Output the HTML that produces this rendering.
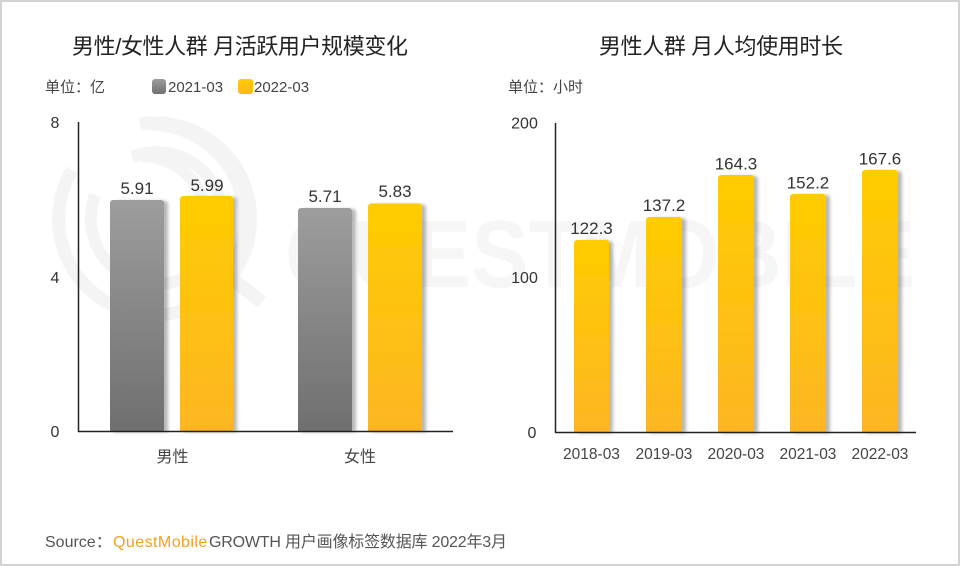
<!DOCTYPE html>
<html><head><meta charset="utf-8"><style>
html,body{margin:0;padding:0;background:#fff;}
svg{display:block;}
text{font-family:"Liberation Sans","Noto Sans CJK SC",sans-serif;}
</style></head><body>
<svg width="960" height="566" viewBox="0 0 960 566" xmlns="http://www.w3.org/2000/svg">
<defs>
<linearGradient id="gy" x1="0" y1="0" x2="0" y2="1"><stop offset="0" stop-color="#9d9d9d"/><stop offset="1" stop-color="#6f6f6f"/></linearGradient>
<linearGradient id="yl" x1="0" y1="0" x2="0" y2="1"><stop offset="0" stop-color="#ffcc00"/><stop offset="1" stop-color="#fdb623"/></linearGradient>
<filter id="sh" x="-20%" y="-5%" width="150%" height="110%"><feDropShadow dx="4" dy="1" stdDeviation="1.6" flood-color="#000" flood-opacity="0.28"/></filter>
</defs>
<rect x="1" y="1" width="958" height="564" fill="#fff" stroke="#d2d2d2" stroke-width="2"/>

<!-- watermark -->
<g fill="none" stroke="#f4f4f4">
<path d="M 72 170 A 96 96 0 1 0 140 124" stroke-width="13"/>
<path d="M 152 124 A 96 96 0 0 1 232 268" stroke-width="13"/>
<path d="M 95 195 A 66 66 0 1 0 132 157" stroke-width="12"/>
<path d="M 142 156 A 66 66 0 0 1 205 238" stroke-width="12"/>
<path d="M 205 258 L 262 302" stroke-width="14"/>
</g>
<text x="285" y="287" font-size="96" font-weight="bold" fill="#f6f6f6" textLength="630" lengthAdjust="spacingAndGlyphs">QUESTMOBILE</text>

<!-- titles -->
<text x="72" y="54" font-size="22" fill="#222" letter-spacing="1" textLength="337">男性/女性人群 月活跃用户规模变化</text>
<text x="599" y="54" font-size="22" fill="#222" textLength="244">男性人群 月人均使用时长</text>

<!-- left header -->
<text x="45" y="92" font-size="15" fill="#444">单位：亿</text>
<rect x="152" y="79" width="14" height="15" rx="3" fill="url(#gy)"/>
<text x="168" y="92" font-size="15" fill="#444">2021-03</text>
<rect x="238" y="79" width="15" height="15" rx="3" fill="url(#yl)"/>
<text x="254" y="92" font-size="15" fill="#444">2022-03</text>

<!-- right header -->
<text x="508" y="92" font-size="15" fill="#444">单位：小时</text>

<!-- left chart -->
<g filter="url(#sh)">
<path d="M110 431 V203 a3 3 0 0 1 3 -3 H161 a3 3 0 0 1 3 3 V431 Z" fill="url(#gy)"/>
<path d="M180 431 V199 a3 3 0 0 1 3 -3 H230 a3 3 0 0 1 3 3 V431 Z" fill="url(#yl)"/>
<path d="M298 431 V211 a3 3 0 0 1 3 -3 H349 a3 3 0 0 1 3 3 V431 Z" fill="url(#gy)"/>
<path d="M368 431 V206.5 a3 3 0 0 1 3 -3 H419 a3 3 0 0 1 3 3 V431 Z" fill="url(#yl)"/>
</g>
<line x1="78.5" y1="122" x2="78.5" y2="432" stroke="#222" stroke-width="1.5"/>
<line x1="78" y1="431.5" x2="453" y2="431.5" stroke="#222" stroke-width="1.5"/>
<g font-size="16" fill="#333" text-anchor="middle">
<text x="55" y="128">8</text>
<text x="55" y="283">4</text>
<text x="55" y="437">0</text>
</g>
<g font-size="17" fill="#333" text-anchor="middle">
<text x="137" y="194">5.91</text>
<text x="207" y="191">5.99</text>
<text x="325" y="202">5.71</text>
<text x="395" y="197">5.83</text>
</g>
<g font-size="16" fill="#444" text-anchor="middle">
<text x="172.5" y="462">男性</text>
<text x="360" y="462">女性</text>
</g>

<!-- right chart -->
<g filter="url(#sh)">
<path d="M574 432 V243 a3 3 0 0 1 3 -3 H606 a3 3 0 0 1 3 3 V432 Z" fill="url(#yl)"/>
<path d="M646 432 V220 a3 3 0 0 1 3 -3 H679 a3 3 0 0 1 3 3 V432 Z" fill="url(#yl)"/>
<path d="M718 432 V178 a3 3 0 0 1 3 -3 H751 a3 3 0 0 1 3 3 V432 Z" fill="url(#yl)"/>
<path d="M790 432 V197 a3 3 0 0 1 3 -3 H823 a3 3 0 0 1 3 3 V432 Z" fill="url(#yl)"/>
<path d="M862 432 V173 a3 3 0 0 1 3 -3 H895 a3 3 0 0 1 3 3 V432 Z" fill="url(#yl)"/>
</g>
<line x1="555.5" y1="123" x2="555.5" y2="433" stroke="#222" stroke-width="1.5"/>
<line x1="555" y1="432.5" x2="916" y2="432.5" stroke="#222" stroke-width="1.5"/>
<g font-size="16" fill="#333" text-anchor="middle">
<text x="524.5" y="128.5">200</text>
<text x="524.5" y="283">100</text>
<text x="532" y="438">0</text>
</g>
<g font-size="17" fill="#333" text-anchor="middle">
<text x="591.5" y="234">122.3</text>
<text x="664" y="211">137.2</text>
<text x="736" y="169.5">164.3</text>
<text x="808" y="188.5">152.2</text>
<text x="880" y="164.5">167.6</text>
</g>
<g font-size="15.5" fill="#444" text-anchor="middle">
<text x="591.5" y="459">2018-03</text>
<text x="664" y="459">2019-03</text>
<text x="736" y="459">2020-03</text>
<text x="808" y="459">2021-03</text>
<text x="880" y="459">2022-03</text>
</g>

<!-- source -->
<text x="45" y="547" font-size="16" fill="#555">Source：</text>
<text x="113" y="547" font-size="16" fill="#f5a01e" textLength="94" letter-spacing="-0.3">QuestMobile</text>
<text x="209" y="547" font-size="16" fill="#555" textLength="298">GROWTH 用户画像标签数据库 2022年3月</text>
</svg>
</body></html>
